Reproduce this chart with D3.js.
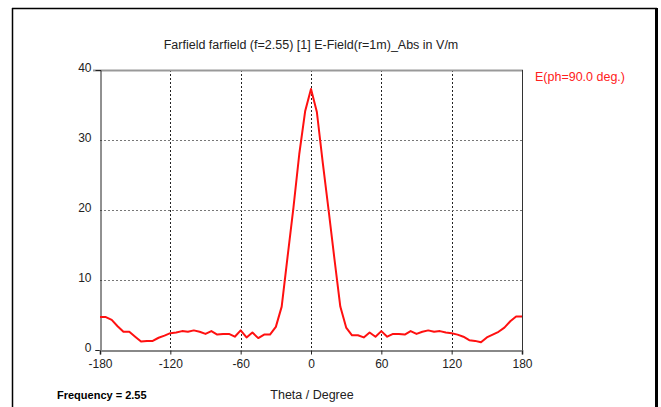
<!DOCTYPE html>
<html>
<head>
<meta charset="utf-8">
<script src="https://cdn.jsdelivr.net/npm/d3@7"></script>
<style>
  html, body { margin: 0; padding: 0; background: #fff; }
  svg { display: block; font-family: "Liberation Sans", Arial, sans-serif; }
</style>
</head>
<body>
<script>
// theta in degrees, sampled every 5 degrees
const theta = [
  -180, -175, -170, -165, -160, -155, -150, -145, -140, -135,
  -130, -125, -120, -115, -110, -105, -100, -95, -90, -85,
  -80, -75, -70, -65, -60, -55, -50, -45, -40, -35,
  -30, -25, -20, -15, -10, -5, 0, 5, 10, 15,
  20, 25, 30, 35, 40, 45, 50, 55, 60, 65,
  70, 75, 80, 85, 90, 95, 100, 105, 110, 115,
  120, 125, 130, 135, 140, 145, 150, 155, 160, 165,
  170, 175, 180
];
// E-field abs in V/m
const eField = [
  4.7, 4.7, 4.3, 3.4, 2.6, 2.6, 1.9, 1.2, 1.3, 1.3,
  1.75, 2.05, 2.4, 2.5, 2.7, 2.6, 2.8, 2.6, 2.3, 2.7,
  2.2, 2.3, 2.3, 1.9, 2.8, 1.8, 2.5, 1.7, 2.2, 2.2,
  3.3, 6.2, 13.3, 20.3, 28.0, 34.1, 37.3, 34.0, 26.8, 20.0,
  13.0, 6.2, 3.2, 2.1, 2.1, 1.8, 2.5, 1.9, 2.7, 1.9,
  2.3, 2.3, 2.2, 2.7, 2.3, 2.6, 2.8, 2.6, 2.7, 2.5,
  2.4, 2.2, 1.9, 1.4, 1.3, 1.1, 1.8, 2.2, 2.6, 3.2,
  4.1, 4.8, 4.8
];
const xTicks = [-180, -120, -60, 0, 60, 120, 180];
const yTicks = [0, 10, 20, 30, 40];

const width = 661, height = 407;
const margin = { top: 70, right: 139, bottom: 57, left: 100 };

const svg = d3.select('body').append('svg')
  .attr('width', width)
  .attr('height', height);

// outer frame
svg.append('line').attr('x1', 12.5).attr('x2', 12.5).attr('y1', 8).attr('y2', height)
  .attr('stroke', '#000').attr('stroke-width', 1.5);
svg.append('line').attr('x1', 12).attr('x2', 657).attr('y1', 8.5).attr('y2', 8.5)
  .attr('stroke', '#000').attr('stroke-width', 1.5);
svg.append('line').attr('x1', 656.5).attr('x2', 656.5).attr('y1', 8).attr('y2', height)
  .attr('stroke', '#000').attr('stroke-width', 3);

const x = d3.scaleLinear().domain([-180, 180]).range([margin.left, width - margin.right]);
const y = d3.scaleLinear().domain([0, 40]).range([height - margin.bottom, margin.top]);

// grid
svg.append('g')
  .selectAll('line')
  .data(xTicks.slice(1, -1))
  .join('line')
    .attr('x1', d => Math.round(x(d)) + 0.5)
    .attr('x2', d => Math.round(x(d)) + 0.5)
    .attr('y1', y(40))
    .attr('y2', y(0))
    .attr('stroke', '#222')
    .attr('stroke-dasharray', '2,2');

svg.append('g')
  .selectAll('line')
  .data(yTicks.slice(1, -1))
  .join('line')
    .attr('x1', x(-180))
    .attr('x2', x(180))
    .attr('y1', d => Math.round(y(d)) + 0.5)
    .attr('y2', d => Math.round(y(d)) + 0.5)
    .attr('stroke', '#777')
    .attr('stroke-dasharray', '2,2');

// plot box: top and right
svg.append('line')
  .attr('x1', x(-180) - 7).attr('x2', x(180) + 1)
  .attr('y1', y(40) + 0.5).attr('y2', y(40) + 0.5)
  .attr('stroke', '#999').attr('stroke-width', 2);
svg.append('line')
  .attr('x1', x(180) + 0.5).attr('x2', x(180) + 0.5)
  .attr('y1', y(40)).attr('y2', y(0))
  .attr('stroke', '#333').attr('stroke-width', 1);

// axes
const yAxis = svg.append('g')
  .attr('transform', `translate(${x(-180) + 0.5},0)`)
  .call(d3.axisLeft(y).tickValues(yTicks).tickFormat(d => String(d)).tickSize(5).tickPadding(4));
const xAxis = svg.append('g')
  .attr('transform', `translate(0,${y(0) + 0.5})`)
  .call(d3.axisBottom(x).tickValues(xTicks).tickFormat(d => String(d)).tickSize(4).tickPadding(5));

yAxis.select('.domain').attr('stroke', '#222');
xAxis.select('.domain').attr('stroke', '#888').attr('stroke-width', 2);
[yAxis, xAxis].forEach(a => {
  a.selectAll('.tick line').attr('stroke', '#222');
  a.selectAll('.tick text')
    .attr('fill', '#222')
    .style('font-family', '"Liberation Sans", Arial, sans-serif')
    .style('font-size', '12px');
});
yAxis.selectAll('.tick text').attr('dy', '0.1em');
// only the zero tick shows a mark on the value axis
yAxis.selectAll('.tick line').attr('opacity', d => d === 0 ? 1 : 0);

// curve
const line = d3.line()
  .x((d, i) => x(theta[i]))
  .y(d => y(d));

svg.append('path')
  .datum(eField)
  .attr('fill', 'none')
  .attr('stroke', '#ff1010')
  .attr('stroke-width', 2)
  .attr('stroke-linejoin', 'round')
  .attr('d', line);

// texts
svg.append('text')
  .attr('x', 311).attr('y', 49)
  .attr('text-anchor', 'middle')
  .style('font-size', '12.5px')
  .attr('fill', '#222')
  .text('Farfield farfield (f=2.55) [1] E-Field(r=1m)_Abs in V/m');

svg.append('text')
  .attr('x', 535).attr('y', 81)
  .style('font-size', '12.5px')
  .attr('fill', '#ff2020')
  .text('E(ph=90.0 deg.)');

svg.append('text')
  .attr('x', 57).attr('y', 399)
  .style('font-size', '11px')
  .style('font-weight', 'bold')
  .attr('fill', '#000')
  .text('Frequency = 2.55');

svg.append('text')
  .attr('x', 312).attr('y', 399)
  .attr('text-anchor', 'middle')
  .style('font-size', '12.5px')
  .attr('fill', '#222')
  .text('Theta / Degree');
</script>
</body>
</html>
